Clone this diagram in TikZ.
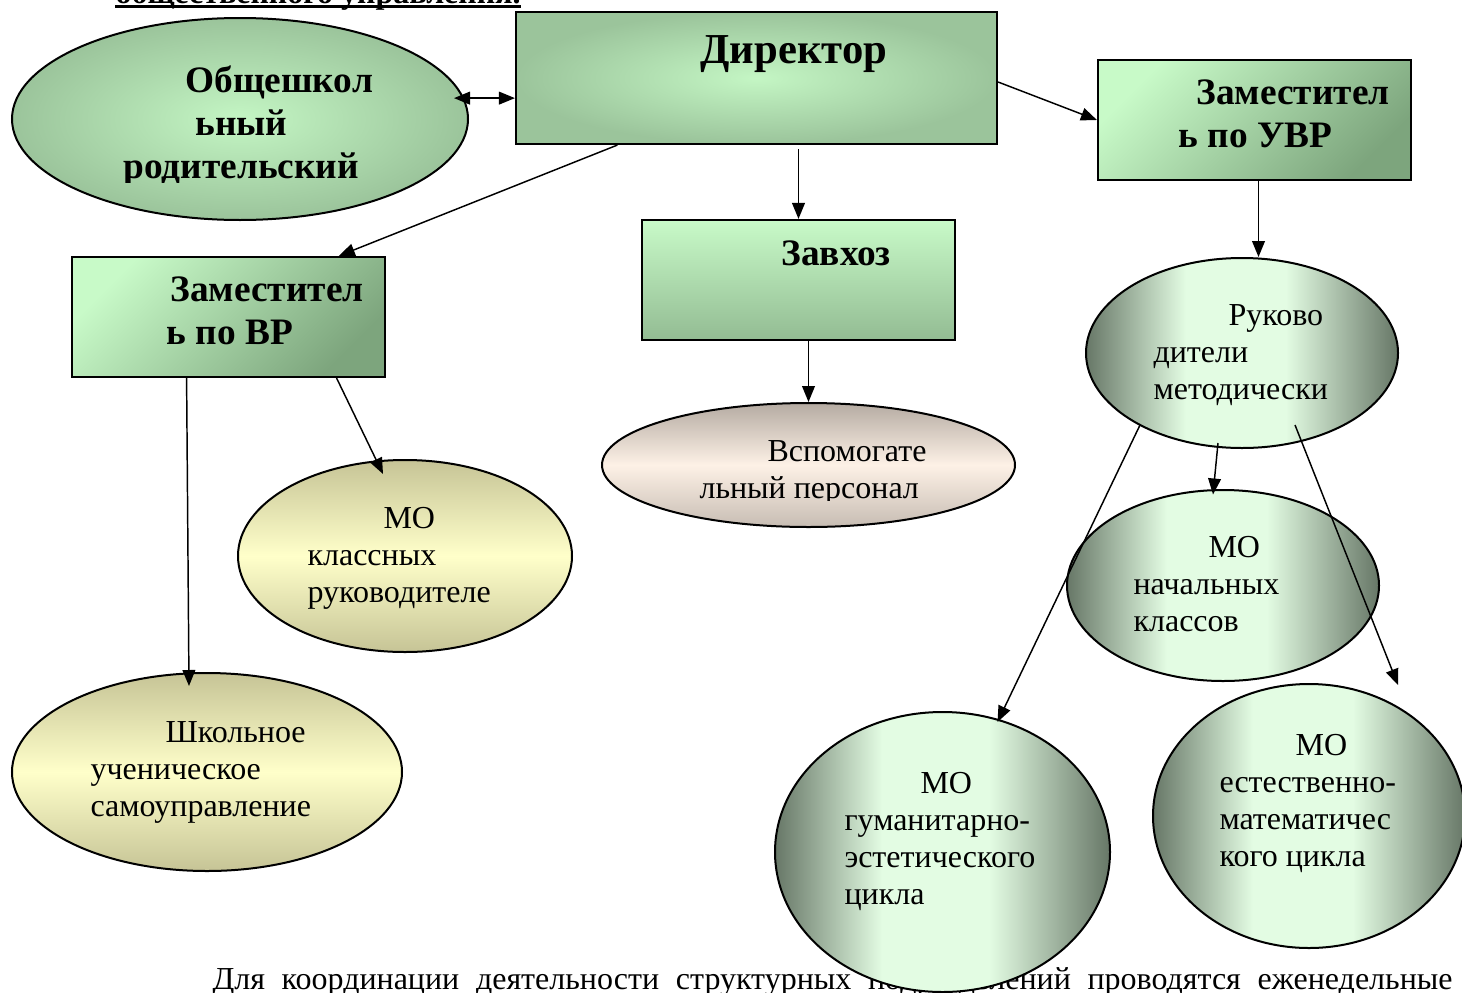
\documentclass[tikz,border=0pt]{standalone}
\usepackage{fontspec}
\setmainfont{Liberation Serif}
\usetikzlibrary{shapes.geometric,arrows.meta,calc}
\newlength{\px}
\setlength{\px}{0.375pt}
\definecolor{glowlight}{HTML}{C4F6C4}
\definecolor{glowdark}{HTML}{9BC49B}
\definecolor{boxlight}{HTML}{C8FAC8}
\definecolor{boxdark}{HTML}{7DA57D}
\definecolor{hozdark}{HTML}{93BC93}
\definecolor{sagelight}{HTML}{E3FCE3}
\definecolor{sagedark}{HTML}{677767}
\definecolor{creamlight}{HTML}{FFFFCA}
\definecolor{creamdark}{HTML}{C6C496}
\definecolor{sandlight}{HTML}{FDF1E6}
\definecolor{sanddark}{HTML}{B5ABA2}
\pgfdeclarehorizontalshading{sageband}{100bp}{color(0bp)=(sagedark); color(25bp)=(sagedark);%
  color(41bp)=(sagelight); color(57bp)=(sagelight); color(75bp)=(sagedark); color(100bp)=(sagedark)}
\tikzset{%
  dims/.style 2 args = {minimum width=#1*\px, minimum height=#2*\px},%
  block/.style   = {shape=rectangle, draw, line width=0.8pt, inner sep=0pt},%
  oval/.style    = {shape=ellipse, draw, line width=0.75pt, inner sep=0pt},%
  chief/.style   = {block, inner color=glowlight, outer color=glowdark},%
  deputy/.style  = {block, top color=boxlight, bottom color=boxdark, shading angle=45},%
  supply/.style  = {block, top color=boxlight, bottom color=hozdark},%
  council/.style = {oval, inner color=glowlight, outer color=glowdark},%
  sage/.style    = {oval, shade, shading=sageband},%
  cream/.style   = {oval, top color=creamdark, bottom color=creamdark, middle color=creamlight},%
  sand/.style    = {oval, top color=sanddark, bottom color=sanddark!75!sandlight, middle color=sandlight},%
  txt/.style     = {anchor=base west, inner sep=0pt, align=left, font=\fontsize{12}{13.875}\selectfont},%
  head/.style    = {txt, font=\bfseries\fontsize{14}{16.1}\selectfont},%
  arr/.style     = {draw, line width=0.55pt, -{Triangle[length=6pt,width=4.8pt]}},%
  twoway/.style  = {arr, {Triangle[length=6pt,width=4.8pt]}-{Triangle[length=6pt,width=4.8pt]}}%
}
\begin{document}
\begin{tikzpicture}[x=0.375pt, y=-0.375pt]
	\useasboundingbox (0,0) rectangle (1462,992);
	% page text behind the chart
	\node[txt] (note) at (212,989) {\makebox[1240\px][s]{Для координации деятельности структурных подразделений проводятся еженедельные}};
	\node[txt, font=\bfseries\fontsize{12}{13.875}\selectfont] (title) at (115,3) {общественного управления.};
	\draw[line width=0.9pt] ($(title.base west)+(0,3.5)$) -- ($(title.base east)+(0,3.5)$);
	% shapes
	\node[council, dims={456}{202}] (rod) at (240,119) {};
	\node[chief, dims={481}{132}] (dir) at (756.5,78) {};
	\node[deputy, dims={313}{120}] (zuvr) at (1254.5,120) {};
	\node[deputy, dims={313}{120}] (zvr) at (228.5,317) {};
	\node[supply, dims={313}{120}] (zvh) at (798.5,280) {};
	\node[sand, dims={413}{124}] (vsp) at (808.5,465) {};
	\node[sage, dims={312}{190}] (ruk) at (1242,353) {};
	\node[sage, dims={312}{191}] (mon) at (1223,585.5) {};
	\node[sage, dims={312}{264}] (moe) at (1309,816) {};
	\node[sage, dims={335}{280}] (mog) at (942.5,852) {};
	\node[cream, dims={334}{192}] (mok) at (405,556) {};
	\node[cream, dims={390}{198}] (shk) at (207,772) {};
	% labels (placed by the baseline of the last line)
	\begin{scope}
		\clip (rod.north -| rod.west) rectangle ($(rod.south -| rod.east)+(0,-39)$);
		\node[head] (rodtxt) at (123,178) {\hspace*{62\px}Общешкол\\\hspace*{72\px}ьный\\родительский};
	\end{scope}
	\node[head, font=\bfseries\fontsize{16}{18.4}\selectfont] (dirtxt) at (700,63) {Директор};
	\node[head] (zuvrtxt) at (1178,147) {\hspace*{18\px}Заместител\\ь по УВР};
	\node[head] (zvrtxt) at (166,344) {\hspace*{4\px}Заместител\\ь по ВР};
	\node[head] (zvhtxt) at (781,265) {Завхоз};
	\begin{scope}
		\clip (vsp.north -| vsp.west) rectangle ($(vsp.south -| vsp.east)+(0,-28)$);
		\node[txt] (vsptxt) at (699,498) {\hspace*{68\px}Вспомогате\\льный персонал};
	\end{scope}
	\node[txt] (ruktxt) at (1153,399) {\hspace*{75\px}Руково\\дители\\методически};
	\node[txt] (montxt) at (1133,631) {\hspace*{75\px}МО\\начальных\\классов};
	\node[txt] (moetxt) at (1219,866) {\hspace*{76\px}МО\\естественно-\\математичес\\кого цикла};
	\node[txt] (mogtxt) at (844,904) {\hspace*{76\px}МО\\гуманитарно-\\эстетического\\цикла};
	\node[txt] (moktxt) at (307,602) {\hspace*{76\px}МО\\классных\\руководителе};
	\node[txt] (shktxt) at (90,816) {\hspace*{75\px}Школьное\\ученическое\\самоуправление};
	% connectors
	\coordinate (dirW) at ($(dir.north west)!0.65!(dir.south west)$);
	\draw[twoway] ($(dirW -| rod.east)+(-15,0)$) -- (dirW);
	\draw[arr] ($(dir.south west)!0.212!(dir.south east)$) -- ($(zvr.north west)!0.85!(zvr.north east)$);
	\draw[arr] ([yshift=-1.5pt]dir.south -| zvh.north) -- (zvh.north);
	\draw[arr] ($(dir.east)+(0,4)$) -- (zuvr.west);
	\draw[arr] ($(zuvr.south)+(4,0)$) -- ($(zuvr.south |- ruk.north)+(4,0)$);
	\draw[arr] ($(zvr.south west)!0.367!(zvr.south east)$) -- ($(shk.center)+(-18,-86)$);
	\draw[arr] ($(zvr.south west)!0.843!(zvr.south east)$) -- ($(mok.center)+(-22,-82)$);
	\draw[arr] (vsp.north |- zvh.south) -- (vsp.north);
	\draw[arr] ($(ruk.center)+(-24,90)$) -- ($(mon.center)+(-10,-91)$);
	\draw[arr] ($(ruk.center)+(-102,72)$) -- ($(mog.center)+(55,-130)$);
	\draw[arr] ($(ruk.center)+(53,72)$) -- ($(moe.center)+(89,-131)$);
\end{tikzpicture}
\end{document}
